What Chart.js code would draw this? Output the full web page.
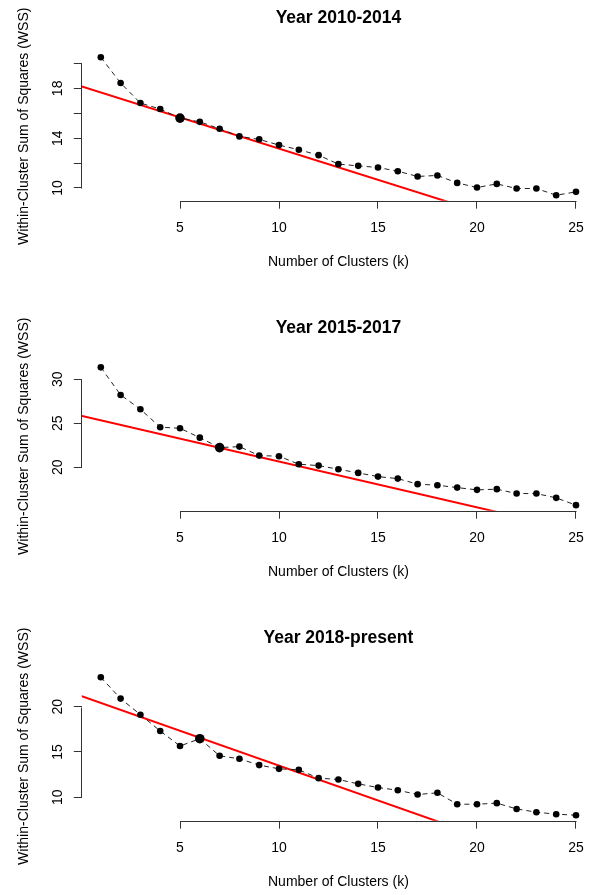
<!DOCTYPE html>
<html>
<head>
<meta charset="utf-8">
<script src="https://cdn.jsdelivr.net/npm/chart.js@4.4.1/dist/chart.umd.min.js"></script>
<style>
  html, body { margin: 0; padding: 0; background: #fff; overflow: hidden; }
  #wrap { position: relative; width: 589px; height: 895px; overflow: hidden; }
  canvas { position: absolute; left: 0; }
</style>
</head>
<body>
<div id="wrap">
  <canvas id="c1" width="600" height="310" style="top:0px"></canvas>
  <canvas id="c2" width="600" height="310" style="top:310px"></canvas>
  <canvas id="c3" width="600" height="310" style="top:620px"></canvas>
</div>
<script>
// k = 1..25
const kValues = [1, 2, 3, 4, 5, 6, 7, 8, 9, 10, 11, 12, 13, 14, 15, 16, 17, 18, 19, 20, 21, 22, 23, 24, 25];
const xTicks = [5, 10, 15, 20, 25];
const xTickLabels = ['5', '10', '15', '20', '25'];

// Year 2010-2014
const wss1 = [20.5, 18.43, 16.82, 16.34, 15.61, 15.31, 14.75, 14.14, 13.9, 13.44, 13.07, 12.63, 11.91,
  11.77, 11.64, 11.34, 10.92, 11.0, 10.4, 10.03, 10.32, 9.95, 9.95, 9.41, 9.68];
const elbow1 = 5;
const fitX1 = [0, 20];
const fitY1 = [18.18, 8.14];
const yTicks1 = [10, 12, 14, 16, 18, 20];
const yTickLabels1 = ['10', '', '14', '', '18', ''];

// Year 2015-2017
const wss2 = [31.36, 28.22, 26.59, 24.55, 24.43, 23.36, 22.23, 22.34, 21.32, 21.25, 20.34, 20.18, 19.77,
  19.35, 18.93, 18.7, 18.07, 17.95, 17.68, 17.42, 17.5, 17.0, 17.0, 16.51, 15.68];
const elbow2 = 7;
const fitX2 = [0, 22];
const fitY2 = [25.85, 14.39];
const yTicks2 = [20, 25, 30];
const yTickLabels2 = ['20', '25', '30'];

// Year 2018-present
const wss3 = [23.24, 20.89, 19.11, 17.31, 15.65, 16.46, 14.57, 14.24, 13.54, 13.13, 13.02, 12.1, 11.95,
  11.47, 11.06, 10.77, 10.29, 10.48, 9.22, 9.22, 9.34, 8.7, 8.34, 8.12, 8.01];
const elbow3 = 6;
const fitX3 = [0, 19];
const fitY3 = [21.17, 6.56];
const yTicks3 = [10, 15, 20];
const yTickLabels3 = ['10', '15', '20'];

Chart.defaults.font.family = "'Liberation Sans', Arial, sans-serif";
Chart.defaults.color = '#000';

// R-style axis lines: only from first to last tick
const rAxes = {
  id: 'rAxes',
  afterDraw(chart) {
    const { ctx, scales: { x, y } } = chart;
    const xa = x.getPixelForValue(x.ticks[0].value);
    const xb = x.getPixelForValue(x.ticks[x.ticks.length - 1].value);
    const ya = y.getPixelForValue(y.ticks[0].value);
    const yb = y.getPixelForValue(y.ticks[y.ticks.length - 1].value);
    ctx.save();
    ctx.strokeStyle = '#333';
    ctx.lineWidth = 1;
    ctx.beginPath();
    ctx.moveTo(Math.round(xa) + 0.5, Math.round(x.top) + 0.5);
    ctx.lineTo(Math.round(xb) + 0.5, Math.round(x.top) + 0.5);
    ctx.moveTo(Math.round(y.right) - 0.5, Math.round(ya) + 0.5);
    ctx.lineTo(Math.round(y.right) - 0.5, Math.round(yb) + 0.5);
    ctx.stroke();
    ctx.restore();
  }
};

function makeChart(id, title, wss, elbow, fitX, fitY, yMin, yMax, yTicks, yTickLabels) {
  new Chart(document.getElementById(id), {
    type: 'line',
    data: {
      datasets: [{
        data: kValues.map((k, i) => ({ x: k, y: wss[i] })),
        borderColor: '#222',
        borderWidth: 1,
        borderDash: [5, 4],
        tension: 0,
        fill: false,
        pointBackgroundColor: '#000',
        pointBorderWidth: 0,
        pointRadius: c => (c.dataIndex === elbow - 1 ? 4.8 : 3.3)
      }, {
        data: fitX.map((v, i) => ({ x: v, y: fitY[i] })),
        borderColor: '#ff0000',
        borderWidth: 2,
        pointRadius: 0,
        fill: false,
        clip: 0
      }]
    },
    options: {
      responsive: false,
      animation: false,
      events: [],
      layout: { padding: { left: 0, right: 5, top: 0, bottom: 0 } },
      plugins: {
        legend: { display: false },
        tooltip: { enabled: false },
        title: {
          display: true,
          text: title,
          fullSize: false,
          color: '#000',
          font: { size: 17.5, weight: 'bold', lineHeight: 1.2 },
          padding: { top: 7.8, bottom: 23 }
        }
      },
      scales: {
        x: {
          type: 'linear',
          min: 0.04,
          max: 25.96,
          afterBuildTicks: s => { s.ticks = xTicks.map(v => ({ value: v })); },
          afterFit: s => { s.height = 109.3; },
          border: { display: false },
          grid: { drawOnChartArea: false, tickLength: 8, color: '#333' },
          ticks: {
            autoSkip: false,
            maxRotation: 0,
            padding: 10.9,
            font: { size: 14 },
            color: '#000',
            callback: (v, i) => xTickLabels[i]
          },
          title: {
            display: true,
            text: 'Number of Clusters (k)',
            color: '#000',
            font: { size: 14 },
            padding: { top: 0, bottom: 39.5 }
          }
        },
        y: {
          type: 'linear',
          min: yMin,
          max: yMax,
          afterBuildTicks: s => { s.ticks = yTicks.map(v => ({ value: v })); },
          afterFit: s => { s.width = 81.8; },
          border: { display: false },
          grid: { drawOnChartArea: false, tickLength: 8, color: '#333' },
          ticks: {
            autoSkip: false,
            minRotation: 90,
            maxRotation: 90,
            crossAlign: 'center',
            padding: 8,
            font: { size: 14 },
            color: '#000',
            callback: (v, i) => yTickLabels[i]
          },
          title: {
            display: true,
            text: 'Within-Cluster Sum of Squares (WSS)',
            color: '#000',
            font: { size: 14 },
            padding: { top: 15.4, bottom: 0 }
          }
        }
      }
    },
    plugins: [rAxes]
  });
}

makeChart('c1', 'Year 2010-2014', wss1, elbow1, fitX1, fitY1, 8.97, 20.94, yTicks1, yTickLabels1);
makeChart('c2', 'Year 2015-2017', wss2, elbow2, fitX2, fitY2, 15.05, 31.99, yTicks2, yTickLabels2);
makeChart('c3', 'Year 2018-present', wss3, elbow3, fitX3, fitY3, 7.40, 23.85, yTicks3, yTickLabels3);
</script>
</body>
</html>
